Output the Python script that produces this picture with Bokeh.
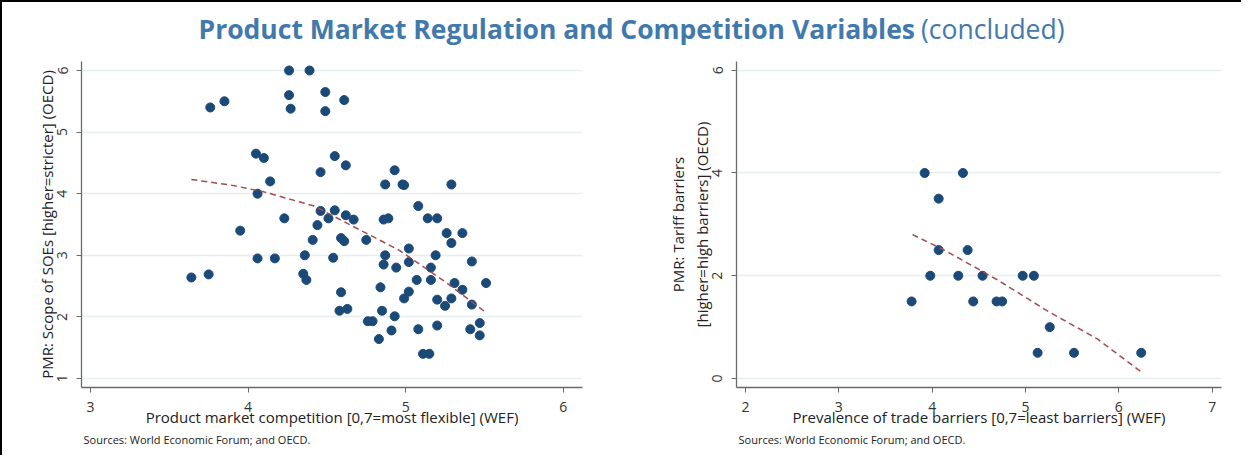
from bokeh.plotting import figure
from bokeh.layouts import column, row
from bokeh.models import Label, Range1d, FixedTicker, ColumnDataSource, Title
from bokeh.embed import file_html
from bokeh.resources import INLINE

# ---- Data: left panel (Product market competition vs Scope of SOEs)
pmc_x = [3.64, 3.75, 3.76, 3.85, 3.95, 4.05, 4.10, 4.06, 4.14, 4.06, 4.17, 4.23,
         4.26, 4.26, 4.27, 4.39, 4.49, 4.49, 4.61, 4.55, 4.62, 4.46, 4.46, 4.55,
         4.51, 4.62, 4.67, 4.44, 4.41, 4.59, 4.61, 4.75, 4.86, 4.89, 4.87, 4.93,
         4.98, 4.99, 5.29, 5.08, 5.14, 5.20, 5.26, 5.36, 5.29, 5.02, 5.19, 5.02,
         4.94, 5.42, 5.16, 5.07, 5.16, 5.31, 5.36, 5.51, 5.02, 4.36, 4.54, 4.35,
         4.37, 4.87, 4.86, 4.84, 4.59, 4.58, 4.63, 4.85, 4.93, 4.76, 4.79, 4.91,
         4.83, 4.99, 5.20, 5.25, 5.29, 5.42, 5.08, 5.20, 5.41, 5.47, 5.47, 5.11,
         5.15]
soe_y = [2.64, 2.69, 5.40, 5.50, 3.40, 4.65, 4.58, 4.00, 4.20, 2.95, 2.95, 3.60,
         6.00, 5.60, 5.38, 6.00, 5.65, 5.34, 5.52, 4.61, 4.46, 4.35, 3.72, 3.73,
         3.60, 3.65, 3.58, 3.49, 3.25, 3.28, 3.23, 3.25, 3.58, 3.60, 4.15, 4.38,
         4.15, 4.14, 4.15, 3.80, 3.60, 3.60, 3.36, 3.36, 3.20, 3.11, 3.00, 2.89,
         2.80, 2.90, 2.80, 2.60, 2.60, 2.55, 2.44, 2.55, 2.41, 3.00, 2.96, 2.70,
         2.60, 3.00, 2.85, 2.48, 2.40, 2.10, 2.13, 2.10, 2.01, 1.93, 1.93, 1.78,
         1.64, 2.30, 2.28, 2.18, 2.30, 2.20, 1.80, 1.86, 1.80, 1.90, 1.70, 1.40,
         1.40]
fit1_x = [3.64, 3.89, 4.10, 4.42, 4.65, 4.78, 4.96, 5.24, 5.51]
fit1_y = [4.23, 4.14, 4.03, 3.80, 3.49, 3.32, 3.08, 2.59, 2.07]

# ---- Data: right panel (Prevalence of trade barriers vs Tariff barriers)
trade_x = [3.92, 4.33, 4.07, 4.07, 4.38, 3.98, 4.28, 4.54, 4.97, 5.09, 3.78,
           4.44, 4.69, 4.75, 5.26, 5.13, 5.52, 6.24]
tariff_y = [4.0, 4.0, 3.5, 2.5, 2.5, 2.0, 2.0, 2.0, 2.0, 2.0, 1.5,
            1.5, 1.5, 1.5, 1.0, 0.5, 0.5, 0.5]
fit2_x = [3.79, 4.14, 4.70, 5.23, 5.77, 6.24]
fit2_y = [2.80, 2.49, 1.92, 1.32, 0.77, 0.13]

left_xticks = [3, 4, 5, 6]
left_yticks = [1, 2, 3, 4, 5, 6]
right_xticks = [2, 3, 4, 5, 6, 7]
right_yticks = [0, 2, 4, 6]

FONT = "Open Sans"
DOT = "#1b4a78"
FIT = "#a54a50"
TITLE_C = "#4279ad"
SOURCE = "Sources: World Economic Forum; and OECD."


def style(p, xt, yt):
    p.xaxis.ticker = FixedTicker(ticks=xt)
    p.yaxis.ticker = FixedTicker(ticks=yt)
    p.yaxis.major_label_orientation = "parallel"
    for ax in (p.xaxis[0], p.yaxis[0]):
        ax.axis_line_color = "#6a6a6a"
        ax.axis_line_width = 1.3
        ax.major_tick_line_color = "#6a6a6a"
        ax.major_tick_out = 5
        ax.major_tick_in = 0
        ax.minor_tick_line_color = None
        ax.major_label_text_font = FONT
        ax.major_label_text_font_size = "14px"
        ax.major_label_text_color = "#333333"
        ax.axis_label_text_font = FONT
        ax.axis_label_text_font_size = "15px"
        ax.axis_label_text_font_style = "normal"
        ax.axis_label_text_color = "#222222"
    p.xaxis.major_label_standoff = 9
    p.xaxis.axis_label_standoff = -8
    p.yaxis.major_label_standoff = 9
    p.yaxis.axis_label_standoff = -2
    p.xgrid.visible = False
    p.ygrid.grid_line_color = "#e6eff0"
    p.ygrid.grid_line_width = 1.6
    p.outline_line_color = None
    p.background_fill_color = "white"
    p.border_fill_color = "white"
    p.add_layout(Title(text=SOURCE, align="left", text_font=FONT, text_font_size="11px",
                       text_font_style="normal", text_color="#222222", offset=2,
                       standoff=0), "below")


# ---- Title
t = figure(width=1239, height=53, x_range=Range1d(0, 1239), y_range=Range1d(0, 53),
           toolbar_location=None, output_backend="svg", min_border=0)
t.axis.visible = False
t.grid.visible = False
t.outline_line_color = None
t.add_layout(Label(x=196, y=27, text="Product Market Regulation and Competition Variables",
                   text_font=FONT, text_font_size="26.5px", text_font_style="bold",
                   text_color=TITLE_C, text_baseline="middle", text_align="left"))
t.add_layout(Label(x=1062, y=27, text="(concluded)",
                   text_font=FONT, text_font_size="26.5px", text_font_style="normal",
                   text_color=TITLE_C, text_baseline="middle", text_align="right"))

# ---- Left panel
p1 = figure(width=595, height=400, x_range=Range1d(2.943, 6.122), y_range=Range1d(0.854, 6.146),
            toolbar_location=None, output_backend="svg",
            min_border_left=79, min_border_right=15, min_border_top=6, min_border_bottom=68,
            x_axis_label="Product market competition [0,7=most flexible] (WEF)",
            y_axis_label="PMR: Scope of SOEs [higher=stricter] (OECD)")
style(p1, left_xticks, left_yticks)
p1.scatter(x="x", y="y", source=ColumnDataSource(dict(x=pmc_x, y=soe_y)),
           size=9, fill_color=DOT, line_color=DOT)
p1.line(fit1_x, fit1_y, line_color=FIT, line_width=1.5, line_dash="6 4")

# ---- Right panel
p2 = figure(width=644, height=400, x_range=Range1d(1.904, 7.10), y_range=Range1d(-0.175, 6.17),
            toolbar_location=None, output_backend="svg",
            min_border_left=139, min_border_right=20, min_border_top=6, min_border_bottom=68,
            x_axis_label="Prevalence of trade barriers [0,7=least barriers] (WEF)",
            y_axis_label="PMR: Tariff barriers\n[higher=high barriers] (OECD)")
style(p2, right_xticks, right_yticks)
p2.scatter(x="x", y="y", source=ColumnDataSource(dict(x=trade_x, y=tariff_y)),
           size=9, fill_color=DOT, line_color=DOT)
p2.line(fit2_x, fit2_y, line_color=FIT, line_width=1.5, line_dash="6 4")

layout = column(t, row(p1, p2, spacing=0), spacing=0,
                styles={"border-top": "2px solid #000000", "border-left": "2px solid #000000"})
open("out.html", "w").write(file_html(layout, INLINE))
